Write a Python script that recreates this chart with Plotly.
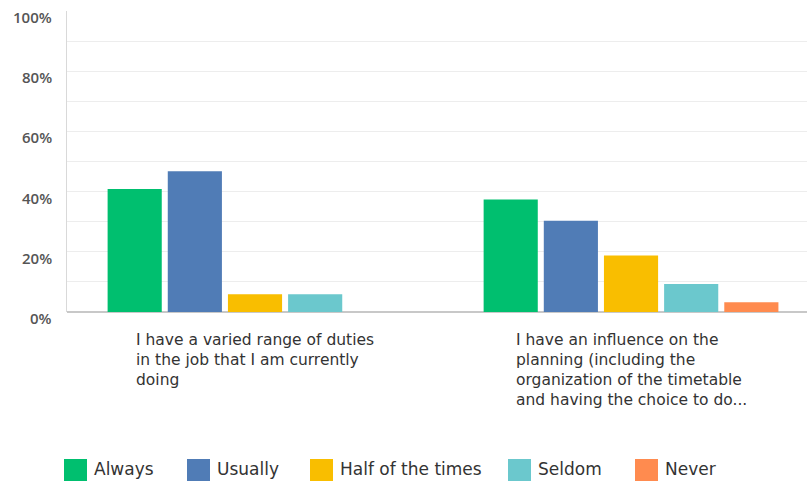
import plotly.graph_objects as go

# Survey answers, percentage of respondents per statement
categories = [
    "I have a varied range of duties<br>in the job that I am currently<br>doing",
    "I have an influence on the<br>planning (including the<br>organization of the timetable<br>and having the choice to do...",
]
series_names = ["Always", "Usually", "Half of the times", "Seldom", "Never"]
always = [40.9, 37.4]
usually = [46.8, 30.3]
half_of_the_times = [5.9, 18.8]
seldom = [5.9, 9.3]
never = [0.0, 3.2]
y_tick_values = [0, 20, 40, 60, 80, 100]
y_tick_labels = ["0%", "20%", "40%", "60%", "80%", "100%"]

series_values = [always, usually, half_of_the_times, seldom, never]
colors = ["#00BF6F", "#507CB6", "#F9BE00", "#6BC8CD", "#FF8B4F"]

W, H = 807, 483
L, R, T, B = 67, 0, 11, 171
plot_w = W - L - R
plot_h = H - T - B

fig = go.Figure()
for name, vals, col in zip(series_names, series_values, colors):
    fig.add_trace(go.Bar(
        x=[0, 1], y=vals, name=name, marker=dict(color=col, line=dict(width=0)),
        hovertemplate="%{y:.1f}%<extra>" + name + "</extra>",
    ))


def px_to_paper(xp, yp):
    return (xp - L) / plot_w, (H - B - yp) / plot_h


annotations = []
# y tick labels, sitting slightly below their gridlines
for v, lab in zip(y_tick_values, y_tick_labels):
    annotations.append(dict(
        x=0, xref="paper", y=v, yref="y", text=lab, showarrow=False,
        xanchor="right", yanchor="middle", xshift=-13, yshift=-6,
        font=dict(family="Open Sans", size=15, color="#555555", weight=600),
    ))

# category labels: centred block, left-aligned lines
for i, cat in enumerate(categories):
    annotations.append(dict(
        x=i, xref="x", y=0, yref="paper", text=cat, showarrow=False,
        xanchor="center", yanchor="top", yshift=-17, align="left",
        font=dict(family="DejaVu Sans", size=15.5, color="#333333"),
    ))

# legend drawn as swatches + labels along the bottom
shapes = []
swatch_left = [64, 187, 310, 508, 635]
for name, col, sx in zip(series_names, colors, swatch_left):
    x0, y0 = px_to_paper(sx, 481)
    x1, y1 = px_to_paper(sx + 23, 459)
    shapes.append(dict(type="rect", xref="paper", yref="paper",
                       x0=x0, y0=y0, x1=x1, y1=y1,
                       fillcolor=col, line=dict(width=0)))
    tx, ty = px_to_paper(sx + 28, 469)
    annotations.append(dict(
        x=tx, xref="paper", y=ty, yref="paper", text=name, showarrow=False,
        xanchor="left", yanchor="middle",
        font=dict(family="DejaVu Sans", size=17, color="#333333"),
    ))

fig.update_layout(
    width=W, height=H,
    margin=dict(l=L, r=R, t=T, b=B),
    paper_bgcolor="white", plot_bgcolor="white",
    barmode="group", bargap=0.2, bargroupgap=0.1,
    showlegend=False,
    xaxis=dict(range=[-0.5, 1.468], showticklabels=False, showgrid=False,
               zeroline=False, showline=False, fixedrange=True),
    yaxis=dict(range=[0, 100], dtick=10, showticklabels=False,
               showgrid=True, gridcolor="#EDEDED", gridwidth=1,
               zeroline=True, zerolinecolor="#C8C8C8", zerolinewidth=1.5,
               showline=True, linecolor="#D9D9D9", linewidth=1, fixedrange=True),
    annotations=annotations,
    shapes=shapes,
)

fig.write_html("out.html")
